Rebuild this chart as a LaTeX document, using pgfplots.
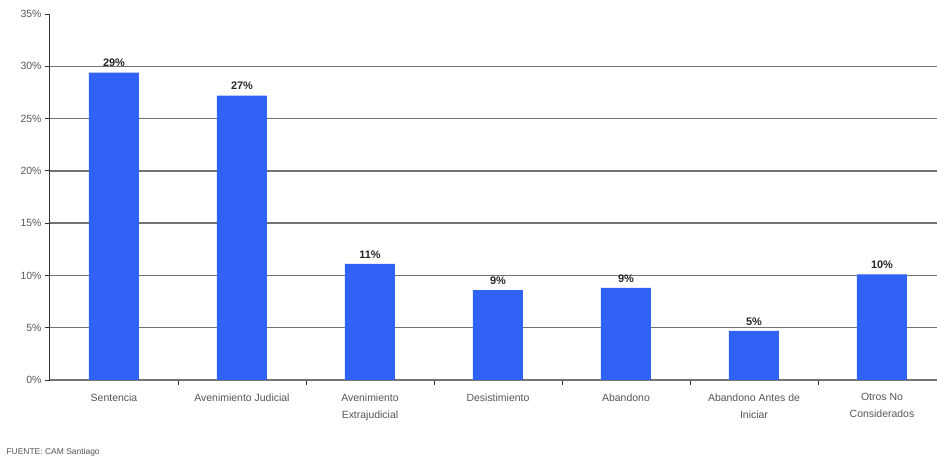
\documentclass[border=0pt]{standalone}
\usepackage{pgfplots}
\pgfplotsset{compat=1.18}
\usepackage{fontspec}
\setmainfont{Liberation Sans}
\definecolor{barblue}{RGB}{48,98,246}
\definecolor{gridgray}{RGB}{115,115,115}
\definecolor{labgray}{RGB}{85,85,85}
\begin{document}
\begin{tikzpicture}
\useasboundingbox (0,0) rectangle (937bp,464bp);
\begin{axis}[
  at={(50bp,84bp)}, anchor=south west,
  scale only axis, width=887bp, height=366bp,
  xmin=-0.5, xmax=6.43, ymin=0, ymax=35,
  axis x line*=bottom, axis y line*=left,
  every outer x axis line/.append style={-, draw=gridgray, line width=1.5bp},
  every outer y axis line/.append style={-, draw=black!80, line width=1bp},
  /pgf/number format/assume math mode=true,
  ytick={0,5,...,35},
  yticklabel={\pgfmathprintnumber{\tick}\%},
  yticklabel style={font=\fontsize{10.5}{12}\selectfont, text=labgray},
  tick align=outside, major tick length=5bp,
  tick style={draw=black!80, line width=0.8bp},
  xtick={0.5,1.5,...,5.5}, xticklabels={},
  extra x ticks={0,1,2,3,4,5,6},
  extra x tick labels={Sentencia, Avenimiento Judicial, {Avenimiento\\Extrajudicial}, Desistimiento, Abandono, {Abandono Antes de\\Iniciar}, {Otros No\\Considerados}},
  extra x tick style={major tick length=0pt,
    xticklabel style={font=\fontsize{10.5}{17}\selectfont, text=labgray, align=center, yshift=-10bp}},
  extra y ticks={5,10,...,30},
  extra y tick labels={},
  extra y tick style={grid=major, major grid style={draw=gridgray, line width=1.5bp}},
  ybar, bar width=50bp,
  nodes near coords={\pgfmathprintnumber[fixed,precision=0]{\pgfplotspointmeta}\%},
  nodes near coords style={font=\bfseries\fontsize{11}{13}\selectfont, text=black!85, yshift=2bp},
]
\addplot[fill=barblue, draw=none] coordinates {
  (0,29.4) (1,27.2) (2,11.1) (3,8.6) (4,8.8) (5,4.7) (6,10.1)
};
\end{axis}
\node[anchor=west, font=\fontsize{8.5}{10}\selectfont, text=labgray] at (3bp,12bp) {FUENTE: CAM Santiago};
\end{tikzpicture}
\end{document}
